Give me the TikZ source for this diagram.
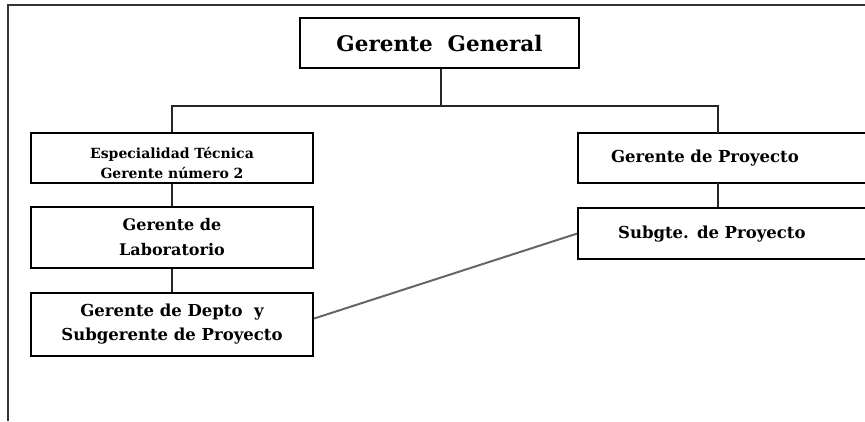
\documentclass[tikz,border=0pt]{standalone}
\usepackage{fontspec}
\setmainfont{DejaVu Serif}

\begin{document}
\begin{tikzpicture}[x=1pt,y=-1pt,
  puesto/.style={draw=black,line width=2.2pt,rectangle,font=\bfseries,align=center,inner sep=0pt},
  linea/.style={draw=black!85,line width=1.6pt}]
\clip (0,0) rectangle (865,421);
% Marco
\draw[black!80,line width=1.6pt] (865,5) -- (8,5) -- (8,421);
            % Puestos
\node[puesto,line width=2.8pt,minimum width=279pt,minimum height=50pt,font=\bfseries\fontsize{21.5}{24}\selectfont] (gg) at (439.5,43) {Gerente\ \ General};
\node[puesto,minimum width=282pt,minimum height=50pt,font=\bfseries\fontsize{14}{20}\selectfont] (esp) at (172,158) {\rule{0pt}{22pt}Especialidad Técnica\\Gerente número 2};
\node[puesto,minimum width=282pt,minimum height=61pt,font=\bfseries\fontsize{16}{25}\selectfont] (lab) at (172,237.5) {Gerente de\\Laboratorio};
\node[puesto,minimum width=282pt,minimum height=63pt,font=\bfseries\fontsize{16.5}{24}\selectfont] (depto) at (172,324.5) {Gerente de Depto\ \ y\\Subgerente de Proyecto};
\node[puesto,align=left,text width=234pt,inner xsep=33pt,minimum height=50pt,font=\bfseries\fontsize{16.5}{18}\selectfont,anchor=west] (gp) at (577,158) {Gerente de Proyecto};
\node[puesto,align=left,text width=227pt,inner xsep=40pt,minimum height=51pt,anchor=north west,font=\bfseries\fontsize{16.5}{18}\selectfont] (sub) at (577,207) {Subgte. de Proyecto\\[14pt]};
%Conexiones
\coordinate (rama) at (441,106);
\draw[linea] (gg.south -| rama) -- (rama);
\draw[linea] (esp.north) |- (rama) -| (718,133);
\draw[linea] (esp) -- (lab);
\draw[linea] (lab) -- (depto);
\draw[linea] (718,183) -- (718,207);
\draw[black!60,line width=2pt] (depto.east) ++(0,-6) -- (sub.west);

\end{tikzpicture}
\end{document}
